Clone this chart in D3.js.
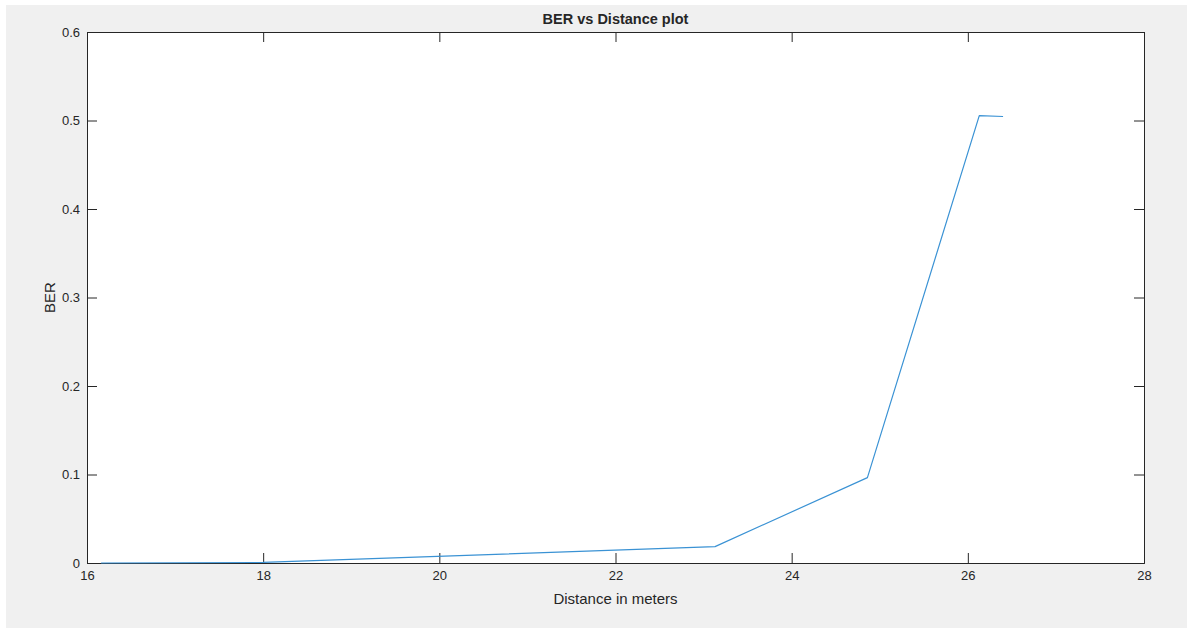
<!DOCTYPE html>
<html><head><meta charset="utf-8">
<script src="https://cdn.jsdelivr.net/npm/d3@7"></script>
<style>
html,body{margin:0;padding:0;background:#fff;}
svg{display:block;}
text{font-family:"Liberation Sans",Arial,Helvetica,sans-serif;fill:#262626;}
</style></head><body>
<svg id="c" width="1187" height="628"></svg>
<script>
const distance = [16.16, 18.0, 23.13, 24.86, 26.13, 26.40];
const ber = [0.0, 0.0006, 0.0185, 0.0965, 0.5055, 0.5045];
const xTicks = [16, 18, 20, 22, 24, 26, 28];
const yTicks = [0, 0.1, 0.2, 0.3, 0.4, 0.5, 0.6];
const title = "BER vs Distance plot";
const xLabel = "Distance in meters";
const yLabel = "BER";

const svg = d3.select("#c");
svg.append("rect").attr("x",6).attr("y",5).attr("width",1181).attr("height",623).attr("fill","#f0f0f0");

const L=87, T=32, R=1144, B=563;
const x = d3.scaleLinear().domain([16,28]).range([L,R]);
const y = d3.scaleLinear().domain([0,0.6]).range([B,T]);

svg.append("rect").attr("x",L).attr("y",T).attr("width",R-L).attr("height",B-T).attr("fill","#fff");

const tl = 10;
const fmtY = d => d===0 ? "0" : d3.format(".1f")(d);
const gx = svg.append("g").attr("transform",`translate(0,${B})`)
  .call(d3.axisBottom(x).tickValues(xTicks).tickSize(-tl).tickPadding(8).tickFormat(d3.format("d")));
const gxt = svg.append("g").attr("transform",`translate(0,${T})`)
  .call(d3.axisTop(x).tickValues(xTicks).tickSize(-tl).tickFormat(""));
const gy = svg.append("g").attr("transform",`translate(${L},0)`)
  .call(d3.axisLeft(y).tickValues(yTicks).tickSize(-tl).tickPadding(7).tickFormat(fmtY));
const gyr = svg.append("g").attr("transform",`translate(${R},0)`)
  .call(d3.axisRight(y).tickValues(yTicks).tickSize(-tl).tickFormat(""));

[gx,gxt,gy,gyr].forEach(g=>{
  g.selectAll(".domain").attr("stroke","#262626").attr("stroke-width",1);
  g.selectAll(".tick line").attr("stroke","#262626");
  g.selectAll(".tick text").attr("fill","#262626").style("font-size","13px")
   .style("font-family","'Liberation Sans',Arial,sans-serif");
});

const line = d3.line().x((d,i)=>x(distance[i])).y((d,i)=>y(ber[i]));
svg.append("path").datum(ber).attr("d",line).attr("fill","none")
  .attr("stroke","#3a92d4").attr("stroke-width",1.2).attr("stroke-linejoin","round");

svg.append("text").attr("x",(L+R)/2).attr("y",24).attr("text-anchor","middle")
  .style("font-size","14.5px").style("font-weight","bold").attr("fill","#000").text(title);
svg.append("text").attr("x",(L+R)/2).attr("y",604).attr("text-anchor","middle")
  .style("font-size","15px").text(xLabel);
svg.append("text").attr("transform",`translate(55,${(T+B)/2}) rotate(-90)`).attr("text-anchor","middle")
  .style("font-size","15px").text(yLabel);
</script>
</body></html>
